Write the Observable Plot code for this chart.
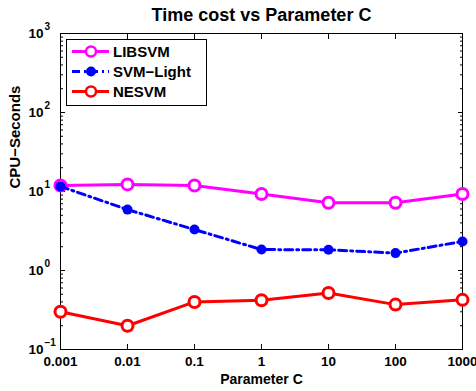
<!DOCTYPE html>
<html><head><meta charset="utf-8">
<script src="https://cdn.jsdelivr.net/npm/d3@7"></script>
<script src="https://cdn.jsdelivr.net/npm/@observablehq/plot@0.6"></script>
<style>
html,body{margin:0;padding:0;background:#fff;overflow:hidden;}
#wrap{position:relative;width:476px;height:391px;font-family:"Liberation Sans",Arial,sans-serif;}
#legend{position:absolute;left:0;top:0;pointer-events:none;}
</style></head><body><div id="wrap"></div>
<script>
// ---- data ----
const paramC = [0.001, 0.01, 0.1, 1, 10, 100, 1000];
const xTickLabels = ["0.001", "0.01", "0.1", "1", "10", "100", "1000"];
const libsvm   = [11.9, 12.3, 11.9, 9.3, 7.2, 7.2, 9.3];
const svmLight = [11.6, 5.9, 3.3, 1.84, 1.83, 1.66, 2.33];
const nesvm    = [0.30, 0.20, 0.40, 0.42, 0.52, 0.37, 0.425];
const seriesNames  = ["LIBSVM", "SVM\u2212Light", "NESVM"];
const seriesColors = ["#ff00ff", "#0000ff", "#ff0000"];
const yDecades   = [0.1, 1, 10, 100, 1000];
const yExponents = ["\u22121", "0", "1", "2", "3"];
const titleText = "Time cost vs Parameter C";
const xLabel = "Parameter C";
const yLabel = "CPU\u2212Seconds";

// ---- derived ----
const seriesValues = [libsvm, svmLight, nesvm];
const rows = seriesValues.map((vals, s) => paramC.map((c, i) => ({c, v: vals[i], s})));
const yMinor = yDecades.slice(0, -1).flatMap(d => [2,3,4,5,6,7,8,9].map(k => d * k));

const font = '"Liberation Sans", Arial, sans-serif';
const dash = "8,4,2,4";

const chart = Plot.plot({
  width: 476, height: 391,
  marginLeft: 60, marginRight: 14, marginTop: 33, marginBottom: 42,
  x: {type: "log", domain: [0.001, 1000]},
  y: {type: "log", domain: [0.1, 1000]},
  style: {fontFamily: font, background: "white", color: "black", overflow: "hidden"},
  marks: [
    // inward ticks
    Plot.axisX(paramC, {anchor: "bottom", tickSize: 5, dy: -5, fill: "none", label: null}),
    Plot.axisX(paramC, {anchor: "top", tickSize: 5, dy: 5, fill: "none", label: null}),
    Plot.axisY(yDecades, {anchor: "left", tickSize: 5, dx: 5, fill: "none", label: null}),
    Plot.axisY(yDecades, {anchor: "right", tickSize: 5, dx: -5, fill: "none", label: null}),
    Plot.axisY(yMinor, {anchor: "left", tickSize: 3, dx: 3, fill: "none", label: null}),
    Plot.axisY(yMinor, {anchor: "right", tickSize: 3, dx: -3, fill: "none", label: null}),
    // x tick labels
    Plot.axisX(paramC, {anchor: "bottom", tickSize: 0, tickPadding: 7, label: null,
      tickFormat: d => xTickLabels[paramC.indexOf(d)], fontSize: 13.5, fontWeight: "bold"}),
    // y tick labels (10 with superscript exponent)
    Plot.text(yDecades, {y: d => d, frameAnchor: "left", text: () => "10", textAnchor: "end",
      dx: -17, fontSize: 13.5, fontWeight: "bold", lineAnchor: "middle"}),
    Plot.text(yDecades, {y: d => d, frameAnchor: "left", text: (d, i) => yExponents[i], textAnchor: "start",
      dx: -16, dy: -7, fontSize: 10, fontWeight: "bold", lineAnchor: "middle"}),
    // frame
    Plot.frame({stroke: "black", strokeWidth: 1}),
    // series
    Plot.line(rows[0], {x: "c", y: "v", stroke: seriesColors[0], strokeWidth: 3}),
    Plot.dot(rows[0], {x: "c", y: "v", r: 5.5, stroke: seriesColors[0], strokeWidth: 3, fill: "white"}),
    Plot.line(rows[1], {x: "c", y: "v", stroke: seriesColors[1], strokeWidth: 3, strokeDasharray: dash}),
    Plot.dot(rows[1], {x: "c", y: "v", r: 5, fill: seriesColors[1], stroke: "none"}),
    Plot.line(rows[2], {x: "c", y: "v", stroke: seriesColors[2], strokeWidth: 3}),
    Plot.dot(rows[2], {x: "c", y: "v", r: 5.5, stroke: seriesColors[2], strokeWidth: 3, fill: "white"}),
    // title and axis labels
    Plot.text([titleText], {frameAnchor: "top", dy: -18, fontSize: 18, fontWeight: "bold", lineAnchor: "middle"}),
    Plot.text([xLabel], {frameAnchor: "bottom", dy: 30, fontSize: 14, fontWeight: "bold", lineAnchor: "middle"}),
    Plot.text([yLabel], {frameAnchor: "left", dx: -45, dy: -3, rotate: -90, fontSize: 15, fontWeight: "bold", lineAnchor: "middle"})
  ]
});
const wrap = document.getElementById("wrap");
wrap.appendChild(chart);

// ---- legend overlay ----
const lg = d3.select(wrap).append("svg").attr("id", "legend").attr("width", 476).attr("height", 391);
lg.append("rect").attr("x", 66.5).attr("y", 39.5).attr("width", 140).attr("height", 66)
  .attr("fill", "white").attr("stroke", "black").attr("stroke-width", 1);
const rowY = [51.5, 71.5, 91.5];
seriesNames.forEach((name, i) => {
  const g = lg.append("g");
  g.append("line").attr("x1", 72).attr("x2", 109).attr("y1", rowY[i]).attr("y2", rowY[i])
    .attr("stroke", seriesColors[i]).attr("stroke-width", 3)
    .attr("stroke-dasharray", i === 1 ? dash : null);
  if (i === 1) {
    g.append("circle").attr("cx", 91).attr("cy", rowY[i]).attr("r", 5).attr("fill", seriesColors[i]);
  } else {
    g.append("circle").attr("cx", 91).attr("cy", rowY[i]).attr("r", 5).attr("fill", "white")
      .attr("stroke", seriesColors[i]).attr("stroke-width", 2.5);
  }
  g.append("text").attr("x", 113).attr("y", rowY[i]).attr("dy", "0.35em")
    .attr("font-family", font).attr("font-size", 15).attr("font-weight", "bold").text(name);
});
</script></body></html>
